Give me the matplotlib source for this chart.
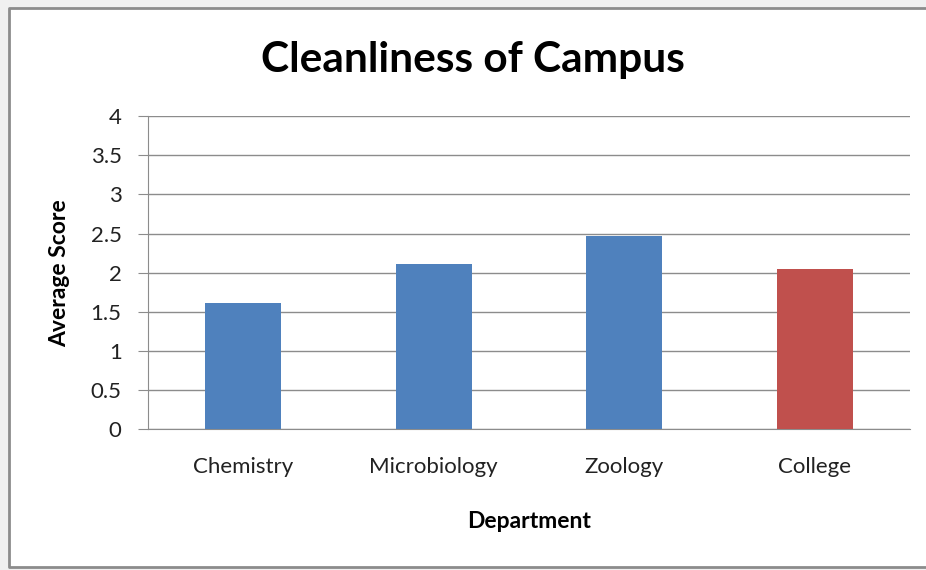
import matplotlib
matplotlib.use("Agg")
import matplotlib.pyplot as plt
from matplotlib.patches import Rectangle
from matplotlib.lines import Line2D

categories = ["Chemistry", "Microbiology", "Zoology", "College"]
scores = [1.61, 2.11, 2.47, 2.05]
bar_colors = ["#4f81bd", "#4f81bd", "#4f81bd", "#c0504d"]
yticks = [0, 0.5, 1, 1.5, 2, 2.5, 3, 3.5, 4]
ytick_labels = ["0", "0.5", "1", "1.5", "2", "2.5", "3", "3.5", "4"]

W, H = 926, 570
plt.rcParams['font.family'] = ['Lato', 'DejaVu Sans']
fig = plt.figure(figsize=(W / 100, H / 100), dpi=100)
fig.patch.set_facecolor("#f0f0f0")

# white chart area, grey border on top, left and bottom only
x0, x1 = 9 / W, 1.0
y0, y1 = (H - 566.5) / H, (H - 8) / H
fig.patches.append(Rectangle((x0, y0), x1 - x0, y1 - y0, transform=fig.transFigure,
                             facecolor="white", edgecolor="none", zorder=-10))
border = Line2D([x1, x0, x0, x1], [y1, y1, y0, y0], transform=fig.transFigure,
                color="#8c8c8c", linewidth=2, zorder=-9)
fig.lines.append(border)

ax = fig.add_axes([148 / W, (H - 429) / H, 762 / W, 312.7 / H])
ax.set_zorder(1)
ax.set_facecolor("white")
x = range(len(categories))
ax.bar(x, scores, width=0.4, color=bar_colors, zorder=3)
ax.set_xlim(-0.5, len(categories) - 0.5)
ax.set_ylim(0, 4)
ax.set_yticks(yticks)
ax.set_yticklabels(ytick_labels)
ax.set_xticks(list(x))
ax.set_xticklabels(categories)
ax.yaxis.grid(True, color="#8c8c8c", linewidth=1, zorder=0)
for s in ["top", "right"]:
    ax.spines[s].set_visible(False)
ax.spines["left"].set_color("#8c8c8c")
ax.spines["bottom"].set_color("#8c8c8c")
ax.tick_params(axis="y", length=7, color="#8c8c8c", labelsize=16, pad=12, labelcolor="#222222")
ax.tick_params(axis="x", length=0, labelsize=16, pad=20, labelcolor="#222222")

fig.text(472.5 / W, 1 - 60 / H, "Cleanliness of Campus", ha="center", va="center",
         fontsize=30.5, fontweight="bold", color="black")
fig.text(60 / W, 1 - 273 / H, "Average Score", ha="center", va="center",
         rotation=90, fontsize=16.5, fontweight="bold", color="black")
fig.text(529 / W, 1 - 521 / H, "Department", ha="center", va="center",
         fontsize=16.5, fontweight="bold", color="black")

fig.savefig("out.png", dpi=100, facecolor=fig.get_facecolor())
